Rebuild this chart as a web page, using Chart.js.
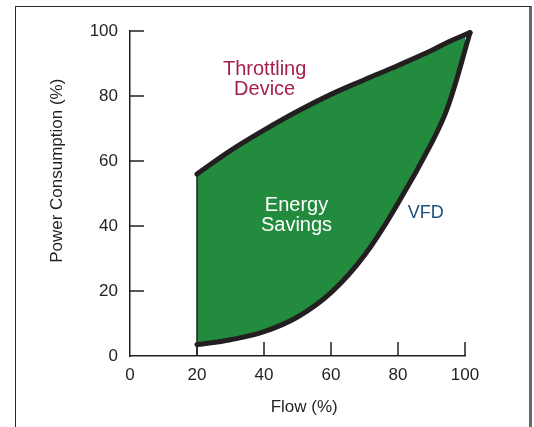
<!DOCTYPE html>
<html>
<head>
<meta charset="utf-8">
<script src="https://cdn.jsdelivr.net/npm/chart.js@4.4.1/dist/chart.umd.min.js"></script>
<style>
  html, body { margin: 0; padding: 0; background: #ffffff; }
  #wrap { position: relative; width: 534px; height: 427px; }
  #frame { position: absolute; left: 15px; top: 6px; width: 513px; height: 440px;
           border-left: 1.5px solid #2a2a2a; border-top: 1.5px solid #2a2a2a;
           border-right: 3px solid #6a6a6a; pointer-events: none; }
</style>
</head>
<body>
<div id="wrap">
  <canvas id="c" width="534" height="427"></canvas>
  <div id="frame"></div>
</div>
<script>
// ---- data ----
const flow       = [20, 30, 40, 50, 60, 70, 80, 90, 95, 101.5];
const throttling = [56, 63.2, 69.5, 75.3, 80.5, 85, 89.4, 94, 96.6, 99.5];
const vfd        = [3.5, 5, 7.5, 12, 19.5, 31, 47, 65.5, 77, 99.5];
const xTicks = [0, 20, 40, 60, 80, 100];
const yTicks = [0, 20, 40, 60, 80, 100];
const xTitle = 'Flow (%)';
const yTitle = 'Power Consumption (%)';
const labelThrottling = ['Throttling', 'Device'];
const labelSavings = ['Energy', 'Savings'];
const labelVfd = 'VFD';

const FONT = '"Liberation Sans", Arial, Helvetica, sans-serif';
const INK = '#231f20';

const toPts = (xs, ys) => xs.map((x, i) => ({ x: x, y: ys[i] }));

const innerTicks = {
  id: 'innerTicks',
  afterDraw(chart) {
    const { ctx, scales: { x, y }, chartArea } = chart;
    ctx.save();
    ctx.strokeStyle = INK;
    ctx.lineWidth = 1.5;
    ctx.beginPath();
    xTicks.forEach(v => {
      if (v === 0) return;
      const px = x.getPixelForValue(v);
      ctx.moveTo(px, chartArea.bottom);
      ctx.lineTo(px, chartArea.bottom - 14);
    });
    yTicks.forEach(v => {
      if (v === 0) return;
      const py = y.getPixelForValue(v);
      ctx.moveTo(chartArea.left, py);
      ctx.lineTo(chartArea.left + 14, py);
    });
    ctx.stroke();

    // axis titles
    ctx.fillStyle = INK;
    ctx.font = '17px ' + FONT;
    ctx.textAlign = 'center';
    ctx.textBaseline = 'middle';
    ctx.fillText(xTitle, x.getPixelForValue(52), 407);
    ctx.save();
    ctx.translate(57, y.getPixelForValue(57));
    ctx.rotate(-Math.PI / 2);
    ctx.fillText(yTitle, 0, 0);
    ctx.restore();

    // annotations
    ctx.font = '20px ' + FONT;
    ctx.fillStyle = '#a5214a';
    let px = x.getPixelForValue(40.2), py = y.getPixelForValue(88.3);
    ctx.fillText(labelThrottling[0], px, py);
    ctx.fillText(labelThrottling[1], px, py + 20);
    ctx.fillStyle = '#ffffff';
    px = x.getPixelForValue(49.7); py = y.getPixelForValue(46.3);
    ctx.fillText(labelSavings[0], px, py);
    ctx.fillText(labelSavings[1], px, py + 20);
    ctx.font = '18px ' + FONT;
    ctx.fillStyle = '#1b4d7c';
    ctx.fillText(labelVfd, x.getPixelForValue(88.3), y.getPixelForValue(44));
    ctx.restore();
  }
};

new Chart(document.getElementById('c'), {
  type: 'line',
  data: {
    datasets: [
      {
        label: 'Throttling Device',
        data: toPts(flow, throttling),
        borderColor: INK,
        borderWidth: 5,
        borderCapStyle: 'round',
        pointRadius: 0,
        fill: false,
        tension: 0.4,
        clip: false,
        order: 1
      },
      {
        label: 'VFD',
        data: toPts(flow, vfd),
        borderColor: INK,
        borderWidth: 5,
        borderCapStyle: 'round',
        backgroundColor: '#238b3e',
        pointRadius: 0,
        fill: '-1',
        tension: 0.4,
        clip: false,
        order: 2
      },
      {
        label: 'edge',
        data: [{ x: flow[0], y: 0 }, { x: flow[0], y: throttling[0] }],
        borderColor: INK,
        borderWidth: 1.5,
        pointRadius: 0,
        fill: false,
        clip: false,
        order: 0
      }
    ]
  },
  options: {
    responsive: false,
    animation: false,
    devicePixelRatio: 1,
    layout: { padding: { left: 0, top: 31, right: 69, bottom: 0 } },
    plugins: { legend: { display: false }, tooltip: { enabled: false } },
    scales: {
      x: {
        type: 'linear',
        min: 0, max: 100,
        afterBuildTicks: s => { s.ticks = xTicks.map(v => ({ value: v })); },
        afterFit: s => { s.height = 71; },
        grid: { display: false, drawTicks: false },
        border: { display: true, color: INK, width: 1.5 },
        ticks: { padding: 9, color: INK, font: { family: FONT, size: 17 }, maxRotation: 0 }
      },
      y: {
        type: 'linear',
        min: 0, max: 100,
        afterBuildTicks: s => { s.ticks = yTicks.map(v => ({ value: v })); },
        afterFit: s => { s.width = 130; },
        grid: { display: false, drawTicks: false },
        border: { display: true, color: INK, width: 1.5 },
        ticks: { padding: 12, color: INK, font: { family: FONT, size: 17 } }
      }
    }
  },
  plugins: [innerTicks]
});
</script>
</body>
</html>
